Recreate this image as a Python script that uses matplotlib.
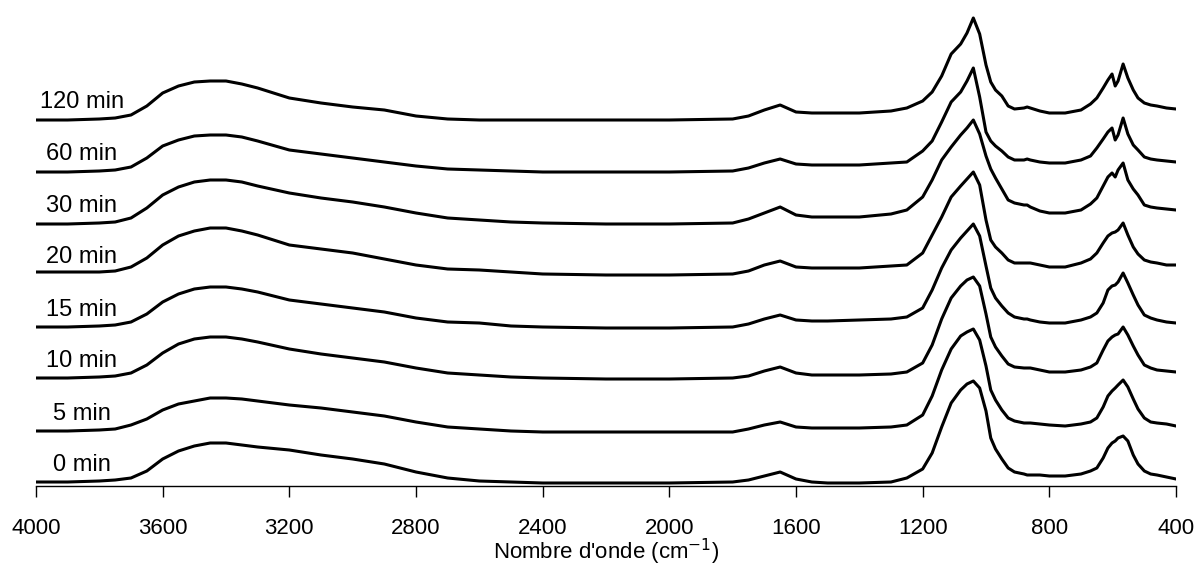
# stacked FTIR spectra vs reaction time

import numpy as np
import matplotlib.pyplot as plt
from matplotlib.transforms import Bbox, TransformedBbox

plt.rcParams['font.family'] = ['Liberation Sans', 'DejaVu Sans']

# wavenumbers (cm-1)
wn = [4000, 3900, 3800, 3750, 3700, 3650, 3600, 3550, 3500, 3450,
      3400, 3350, 3300, 3200, 3100, 3000, 2900, 2800, 2700, 2600,
      2500, 2400, 2200, 2000, 1800, 1750, 1700, 1650, 1600, 1550,
      1500, 1400, 1300, 1250, 1200, 1170, 1140, 1110, 1080, 1060,
      1040, 1020, 1000, 985, 970, 950, 930, 910, 880, 870,
      860, 830, 800, 750, 700, 670, 650, 630, 615, 602,
      592, 583, 567, 552, 535, 520, 500, 480, 460, 430,
      400]

# absorbance (x100) of each trace, relative to its 2400-2000 baseline
a0 = [1, 1, 2, 3, 5, 12, 24, 32, 37, 40,
      40, 38, 36, 33, 28, 24, 19, 11, 5, 2,
      1, 0, 0, 0, 1, 3, 7, 11, 4, 1,
      0, 0, 1, 5, 14, 30, 56, 80, 93, 99,
      102, 95, 72, 45, 34, 24, 15, 11, 9, 8,
      8, 8, 7, 7, 9, 12, 15, 25, 35, 40,
      42, 45, 47, 42, 28, 19, 12, 9, 8, 6,
      4]
a5 = [1, 1, 2, 3, 7, 13, 22, 28, 31, 34,
      34, 33, 31, 27, 24, 20, 16, 10, 5, 3,
      1, 0, 0, 0, 0, 3, 7, 10, 5, 4,
      4, 4, 5, 7, 17, 36, 62, 83, 96, 100,
      103, 92, 66, 42, 32, 22, 14, 11, 9, 9,
      9, 8, 7, 6, 8, 10, 14, 25, 36, 41,
      44, 47, 52, 45, 33, 23, 14, 10, 9, 8,
      6]
a10 = [1, 1, 2, 3, 6, 14, 26, 35, 40, 42,
       42, 40, 37, 30, 25, 21, 17, 11, 6, 4,
       2, 1, 0, 0, 1, 3, 8, 12, 6, 4,
       4, 4, 5, 7, 16, 34, 60, 81, 93, 99,
       102, 93, 65, 42, 32, 23, 15, 12, 11, 11,
       11, 9, 7, 7, 9, 12, 16, 29, 38, 42,
       44, 45, 52, 44, 33, 24, 14, 11, 9, 8,
       7]
a15 = [1, 1, 2, 3, 6, 14, 26, 34, 39, 41,
       41, 39, 36, 28, 24, 20, 16, 10, 6, 5,
       2, 1, 0, 0, 1, 4, 9, 13, 8, 7,
       7, 8, 9, 11, 20, 38, 60, 78, 90, 97,
       104, 92, 62, 40, 30, 22, 15, 11, 9, 9,
       8, 6, 5, 5, 8, 11, 15, 25, 38, 42,
       43, 46, 55, 45, 33, 23, 13, 10, 8, 6,
       5]
a20 = [3, 3, 3, 4, 8, 17, 30, 39, 44, 47,
       47, 44, 40, 30, 26, 22, 16, 10, 6, 5,
       3, 1, 0, 0, 1, 4, 10, 14, 8, 7,
       7, 7, 9, 10, 22, 40, 58, 78, 89, 96,
       103, 90, 55, 35, 28, 22, 15, 12, 12, 12,
       12, 10, 8, 8, 12, 16, 22, 32, 39, 42,
       43, 45, 52, 40, 28, 21, 15, 13, 12, 10,
       10]
a30 = [0, 0, 1, 2, 6, 16, 29, 37, 42, 44,
       44, 42, 38, 31, 26, 22, 17, 11, 6, 4,
       2, 1, 0, 0, 1, 5, 11, 17, 9, 7,
       7, 7, 10, 14, 27, 44, 64, 77, 89, 96,
       104, 90, 68, 55, 46, 35, 24, 21, 19, 19,
       17, 13, 11, 11, 14, 20, 26, 38, 47, 51,
       47, 54, 61, 44, 35, 29, 19, 17, 16, 15,
       14]
a60 = [0, 0, 1, 2, 5, 14, 26, 32, 36, 37,
       37, 35, 31, 22, 18, 14, 10, 6, 3, 2,
       1, 0, 0, 0, 1, 4, 9, 13, 8, 7,
       7, 7, 9, 10, 21, 31, 50, 70, 80, 91,
       104, 75, 40, 31, 26, 21, 15, 12, 12, 13,
       12, 10, 9, 9, 12, 16, 24, 33, 40, 44,
       32, 37, 54, 38, 27, 22, 15, 13, 12, 11,
       10]
a120 = [0, 0, 1, 2, 5, 14, 27, 34, 38, 39,
        39, 36, 32, 22, 17, 13, 10, 4, 1, 0,
        0, 0, 0, 0, 1, 4, 10, 15, 8, 7,
        7, 7, 9, 12, 19, 28, 44, 66, 76, 87,
        102, 86, 55, 38, 30, 24, 14, 11, 12, 13,
        12, 9, 7, 7, 10, 16, 22, 32, 40, 46,
        34, 39, 56, 42, 30, 22, 17, 15, 14, 12,
        11]

labels = ['0 min', '5 min', '10 min', '15 min', '20 min', '30 min', '60 min', '120 min']
spectra = [a0, a5, a10, a15, a20, a30, a60, a120]

# vertical shift of each trace (x100)
offsets = [3, 54, 107, 158, 211, 262, 314, 366]

fig = plt.figure(figsize=(11.97, 5.70), dpi=100)
ax = fig.add_axes([36/1197., 84/570., 1140/1197., 476/570.])

for lab, a, off in zip(labels, spectra, offsets):
    y = (np.array(a) + off) / 100.
    ax.plot(wn, y, color='black', lw=2.2, solid_joinstyle='round')
    t = ax.text(3855, (off + 12) / 100., lab, ha='center', va='baseline', fontsize=17)
    if lab == '20 min':
        # label is cut off at the bottom in the original
        t.set_clip_box(TransformedBbox(Bbox([[4000, (off + 15) / 100.], [3600, 5]]), ax.transData))

ax.set_xlim(4000, 400)
ax.set_ylim(0, 4.76)
ax.set_xticks(np.arange(4000, 399, -400))
ax.set_yticks([])
for s in ['left', 'top', 'right']:
    ax.spines[s].set_visible(False)
ax.spines['bottom'].set_linewidth(1.0)
ax.tick_params(axis='x', direction='out', length=8, width=1, labelsize=16, pad=15)
ax.set_xlabel("Nombre d'onde (cm$^{-1}$)", fontsize=16)
ax.xaxis.label.set_va('center')
ax.xaxis.set_label_coords(0.5, -0.138)

fig.savefig('out.png', dpi=100)
